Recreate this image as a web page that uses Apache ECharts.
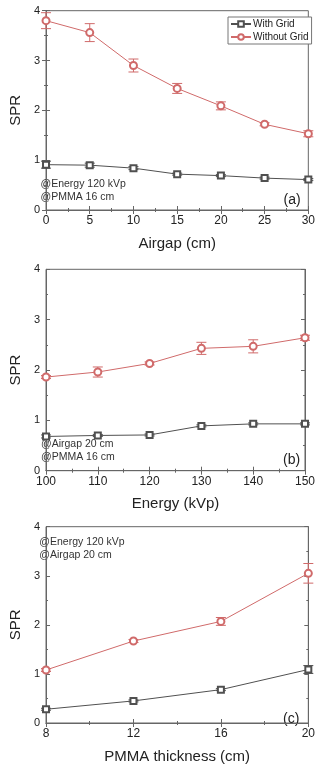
<!DOCTYPE html>
<html><head><meta charset="utf-8">
<script src="https://cdn.jsdelivr.net/npm/echarts@6/dist/echarts.min.js"></script>
<style>html,body{margin:0;padding:0;background:#fff}#c{width:318px;height:765px}</style>
</head><body><div id="c"></div>
<script>
// Panel (a): Airgap
const airgapX = [0, 5, 10, 15, 20, 25, 30];
const airgapWith = [0.91, 0.90, 0.84, 0.72, 0.69, 0.64, 0.61];
const airgapWithErr = [0.07, 0.04, 0.03, 0.02, 0.02, 0.02, 0.02];
const airgapWithout = [3.80, 3.56, 2.90, 2.44, 2.09, 1.72, 1.53];
const airgapWithoutErr = [0.16, 0.18, 0.13, 0.10, 0.08, 0.03, 0.06];
// Panel (b): Energy
const energyX = [100, 110, 120, 130, 140, 150];
const energyWith = [0.68, 0.70, 0.71, 0.89, 0.93, 0.93];
const energyWithErr = [0.03, 0.02, 0.02, 0.02, 0.02, 0.02];
const energyWithout = [1.86, 1.96, 2.13, 2.43, 2.47, 2.64];
const energyWithoutErr = [0.03, 0.10, 0.03, 0.12, 0.13, 0.05];
// Panel (c): PMMA thickness
const pmmaX = [8, 12, 16, 20];
const pmmaWith = [0.28, 0.45, 0.68, 1.09];
const pmmaWithErr = [0.02, 0.02, 0.02, 0.08];
const pmmaWithout = [1.08, 1.67, 2.07, 3.05];
const pmmaWithoutErr = [0.03, 0.03, 0.08, 0.20];

const seriesNames = ['With Grid', 'Without Grid'];
const yTicks = [0, 1, 2, 3, 4];

const C_WITH = '#505050';
const C_WITHOUT = '#d06a6a';
const FONT = 'Liberation Sans, Arial, sans-serif';

const panels = [
  {x: airgapX, w: airgapWith, we: airgapWithErr, wo: airgapWithout, woe: airgapWithoutErr,
   min: 0, max: 30, interval: 5, name: 'Airgap (cm)',
   grid: {left: 29.5, top: 10.7, width: 282, height: 199.3},
   notes: ['@Energy 120 kVp', '@PMMA 16 cm'], notesTop: 178, tag: '(a)', tagTop: 193},
  {x: energyX, w: energyWith, we: energyWithErr, wo: energyWithout, woe: energyWithoutErr,
   min: 100, max: 150, interval: 10, name: 'Energy (kVp)',
   grid: {left: 30, top: 269.3, width: 281, height: 201.4},
   notes: ['@Airgap 20 cm', '@PMMA 16 cm'], notesTop: 438, tag: '(b)', tagTop: 453},
  {x: pmmaX, w: pmmaWith, we: pmmaWithErr, wo: pmmaWithout, woe: pmmaWithoutErr,
   min: 8, max: 20, interval: 4, name: 'PMMA thickness (cm)',
   grid: {left: 28.3, top: 526.7, width: 282.7, height: 203.3},
   notes: ['@Energy 120 kVp', '@Airgap 20 cm'], notesTop: 536, tag: '(c)', tagTop: 712}
];

const grids = [], xAxes = [], yAxes = [], series = [], graphics = [];
const axisLineStyle = {color: '#666', width: 1};

function errSeries(xi, yi, xs, ys, es, color) {
  return {
    type: 'custom', xAxisIndex: xi, yAxisIndex: yi, silent: true, z: 3,
    clip: false,
    data: xs.map((x, i) => [x, ys[i], es[i]]),
    renderItem: function (params, api) {
      const x = api.value(0), y = api.value(1), e = api.value(2);
      const lo = api.coord([x, y - e]), hi = api.coord([x, y + e]);
      const hw = 5;
      const st = {stroke: color, lineWidth: 1};
      return {type: 'group', children: [
        {type: 'line', shape: {x1: lo[0], y1: lo[1], x2: hi[0], y2: hi[1]}, style: st},
        {type: 'line', shape: {x1: lo[0] - hw, y1: lo[1], x2: lo[0] + hw, y2: lo[1]}, style: st},
        {type: 'line', shape: {x1: hi[0] - hw, y1: hi[1], x2: hi[0] + hw, y2: hi[1]}, style: st}
      ]};
    }
  };
}

panels.forEach((p, k) => {
  grids.push(Object.assign({show: true, borderColor: '#666', borderWidth: 1, backgroundColor: 'transparent'}, p.grid));
  const xb = xAxes.length;
  xAxes.push({
    type: 'value', gridIndex: k, min: p.min, max: p.max, interval: p.interval,
    position: 'bottom', name: p.name, nameLocation: 'middle', nameGap: 26,
    nameTextStyle: {fontFamily: FONT, fontSize: 15, color: '#222'},
    axisLine: {lineStyle: axisLineStyle},
    axisTick: {inside: true, length: 4, lineStyle: axisLineStyle},
    minorTick: {show: true, splitNumber: 2, length: 2, lineStyle: axisLineStyle},
    axisLabel: {fontFamily: FONT, fontSize: 12, color: '#222', margin: 5},
    splitLine: {show: false}
  });
  xAxes.push({
    type: 'value', gridIndex: k, min: p.min, max: p.max, interval: p.interval,
    position: 'top',
    axisLine: {lineStyle: axisLineStyle},
    axisTick: {inside: true, length: 4, lineStyle: axisLineStyle},
    minorTick: {show: true, splitNumber: 2, length: 2, lineStyle: axisLineStyle},
    axisLabel: {show: false}, splitLine: {show: false}
  });
  const yb = yAxes.length;
  yAxes.push({
    type: 'value', gridIndex: k, min: yTicks[0], max: yTicks[yTicks.length - 1], interval: 1,
    position: 'left', name: 'SPR', nameLocation: 'middle', nameGap: 17, nameRotate: 90,
    nameTextStyle: {fontFamily: FONT, fontSize: 15, color: '#222'},
    axisLine: {lineStyle: axisLineStyle},
    axisTick: {inside: true, length: 4, lineStyle: axisLineStyle},
    minorTick: {show: true, splitNumber: 2, length: 2, lineStyle: axisLineStyle},
    axisLabel: {fontFamily: FONT, fontSize: 11, color: '#222', margin: 6},
    splitLine: {show: false}
  });
  yAxes.push({
    type: 'value', gridIndex: k, min: 0, max: 4, interval: 1, position: 'right',
    axisLine: {lineStyle: axisLineStyle},
    axisTick: {inside: true, length: 4, lineStyle: axisLineStyle},
    minorTick: {show: true, splitNumber: 2, length: 2, lineStyle: axisLineStyle},
    axisLabel: {show: false}, splitLine: {show: false}
  });
  series.push(errSeries(xb, yb, p.x, p.w, p.we, C_WITH));
  series.push(errSeries(xb, yb, p.x, p.wo, p.woe, C_WITHOUT));
  series.push({
    type: 'line', name: seriesNames[0], xAxisIndex: xb, yAxisIndex: yb,
    data: p.x.map((x, i) => [x, p.w[i]]), symbol: 'emptyRect', symbolSize: 6,
    lineStyle: {color: C_WITH, width: 1}, itemStyle: {color: C_WITH, borderColor: C_WITH, borderWidth: 1},
    z: 4, clip: false
  });
  series.push({
    type: 'line', name: seriesNames[1], xAxisIndex: xb, yAxisIndex: yb,
    data: p.x.map((x, i) => [x, p.wo[i]]), symbol: 'emptyCircle', symbolSize: 7,
    lineStyle: {color: C_WITHOUT, width: 1}, itemStyle: {color: C_WITHOUT, borderColor: C_WITHOUT, borderWidth: 1},
    z: 4, clip: false
  });
  graphics.push({type: 'text', left: p.grid.left + 11, top: p.notesTop,
    style: {text: p.notes.join('\n'), font: '10.5px ' + FONT, fill: '#333', lineHeight: 13}});
  graphics.push({type: 'text', left: p.grid.left + p.grid.width - 28, top: p.tagTop,
    style: {text: p.tag, font: '14px ' + FONT, fill: '#222'}});
});

const chart = echarts.init(document.getElementById('c'), null, {renderer: 'canvas'});
chart.setOption({
  animation: false,
  grid: grids, xAxis: xAxes, yAxis: yAxes, series: series, graphic: graphics,
  legend: {
    data: seriesNames, orient: 'vertical', left: 228, top: 17,
    itemWidth: 20, itemHeight: 7, itemGap: 3,
    borderColor: '#777', borderWidth: 1, padding: [2, 3, 2, 2],
    backgroundColor: '#fff',
    textStyle: {fontFamily: FONT, fontSize: 10, color: '#222', padding: [0, 0, 0, -3]}
  }
});
</script></body></html>
